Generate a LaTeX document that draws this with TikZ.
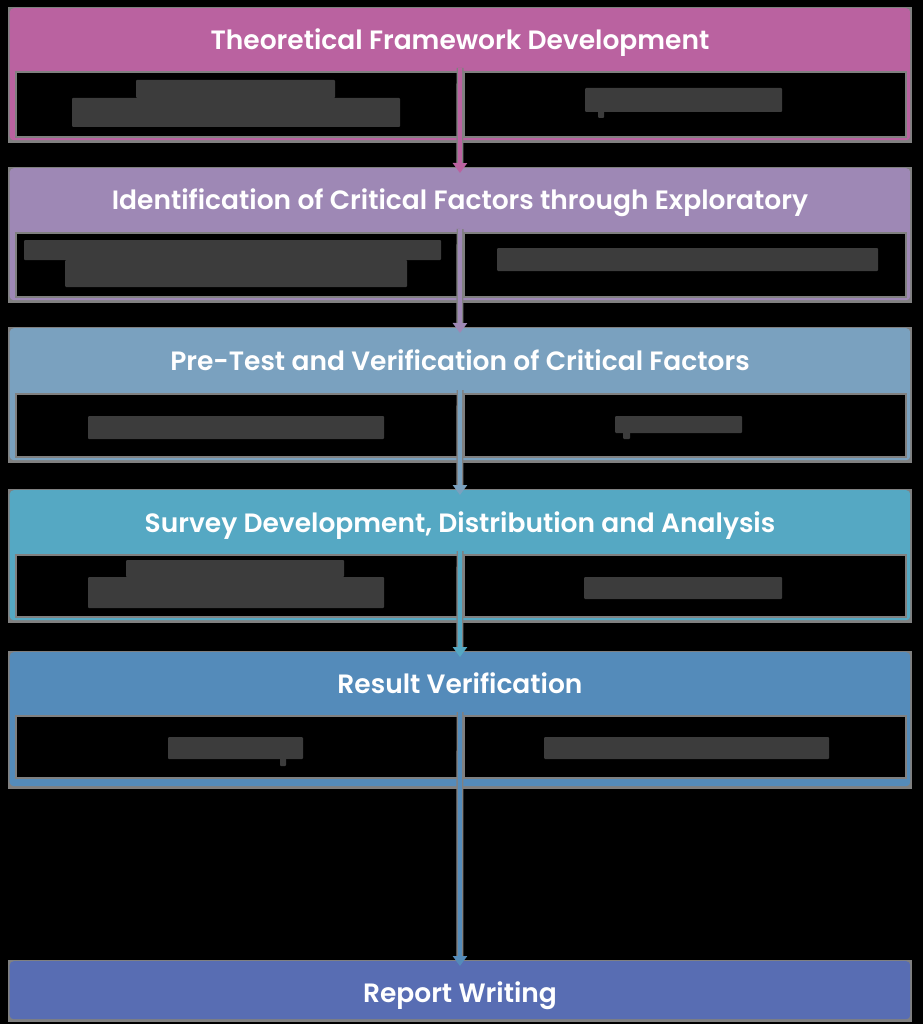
\documentclass[tikz,border=0pt]{standalone}
\usepackage{fontspec}
\setmainfont{Poppins}[BoldFont={* SemiBold}]
\usetikzlibrary{arrows.meta}

\definecolor{cA}{RGB}{186,98,160}
\definecolor{cB}{RGB}{158,136,181}
\definecolor{cC}{RGB}{122,161,191}
\definecolor{cD}{RGB}{85,168,195}
\definecolor{cE}{RGB}{84,139,186}
\definecolor{cF}{RGB}{88,109,179}
\definecolor{halo}{RGB}{128,128,128}
\definecolor{blob}{RGB}{60,60,60}

\tikzset{
  stagebox/.style={rounded corners=4pt, draw=none, inner sep=0pt, anchor=north west, minimum width=900.5pt},
  cellbox/.style={fill=black, draw=halo, line width=2pt, inner sep=0pt, anchor=north west, minimum width=442pt},
  stagetitle/.style={text=white, font=\bfseries\fontsize{26.5}{30}\selectfont, inner sep=0pt, anchor=base},
  redact/.style={fill=blob, draw=none, rounded corners=1pt},
  halolink/.style={draw=halo, line width=7pt},
  flowlink/.style={line width=4pt, -{Triangle[width=14pt,length=10pt]}},
}

% one stage: #1 id, #2 top, #3 header bottom, #4 bottom, #5 colour, #6 title
\newcommand{\stageblock}[6]{%
  \fill[halo] (8,#2-1) rectangle (912,#4+3);
  \node[stagebox, fill=#5, minimum height={#4-#2}] (b#1) at (9.5,#2) {};
  \node[stagetitle] (h#1) at (460,{(#2+#3)/2+11.5}) {#6};
  \coordinate (d#1) at (460,#3);
}
% the two cells below a stage title: #1 id, #2 cell top, #3 cell bottom
\newcommand{\stagecells}[3]{%
  \node[cellbox, minimum height={#3-#2}] (l#1) at (15,#2) {};
  \node[cellbox, minimum height={#3-#2}] (r#1) at (463,#2) {};
}

\begin{document}
\begin{tikzpicture}[x=1pt,y=-1pt]
\useasboundingbox (0,0) rectangle (923,1024);
\fill[black] (0,0) rectangle (923,1024);

\stageblock{1}{8}{68}{140}{cA}{Theoretical Framework Development}
\stageblock{2}{168}{229}{300}{cB}{Identification of Critical Factors through Exploratory}
\stageblock{3}{328}{390}{460}{cC}{Pre-Test and Verification of Critical Factors}
\stageblock{4}{490}{551}{620}{cD}{Survey Development, Distribution and Analysis}
\stageblock{5}{652}{712}{786}{cE}{Result Verification}
\fill[halo] (8,960) rectangle (912,1022);
\node[stagebox, fill=cF, minimum height=58pt] (b6) at (9.5,961) {};
\node[stagetitle] (h6) at (460,1002) {Report Writing};

\stagecells{1}{71}{136}
\stagecells{2}{232}{296}
\stagecells{3}{393}{456}
\stagecells{4}{554}{616}
\stagecells{5}{715}{777}

% obscured cell texts
\fill[redact] (136,80) rectangle (335,98);
\fill[redact] (72,98) rectangle (400,127);
\fill[redact] (585,88) rectangle (782,112);
\fill[redact] (598,110) rectangle (604,118);
\fill[redact] (24,240) rectangle (441,260);
\fill[redact] (65,260) rectangle (407,287);
\fill[redact] (497,248) rectangle (878,271);
\fill[redact] (88,416) rectangle (384,439);
\fill[redact] (615,416) rectangle (742,433);
\fill[redact] (623,431) rectangle (630,439);
\fill[redact] (126,560) rectangle (344,577);
\fill[redact] (88,577) rectangle (384,608);
\fill[redact] (584,577) rectangle (782,599);
\fill[redact] (168,737) rectangle (303,759);
\fill[redact] (280,757) rectangle (286,766);
\fill[redact] (544,737) rectangle (829,759);

% connectors between stages
\draw[halolink] (d1) -- (b2.north);
\draw[halolink] (d2) -- (b3.north);
\draw[halolink] (d3) -- (b4.north);
\draw[halolink] (d4) -- (b5.north);
\draw[halolink] (d5) -- (b6.north);
\draw[flowlink, cA] (d1) -- ([yshift=-5pt]b2.north);
\draw[flowlink, cB] (d2) -- ([yshift=-5pt]b3.north);
\draw[flowlink, cC] (d3) -- ([yshift=-5pt]b4.north);
\draw[flowlink, cD] (d4) -- ([yshift=-5pt]b5.north);
\draw[flowlink, cE] (d5) -- ([yshift=-5pt]b6.north);
\end{tikzpicture}
\end{document}
